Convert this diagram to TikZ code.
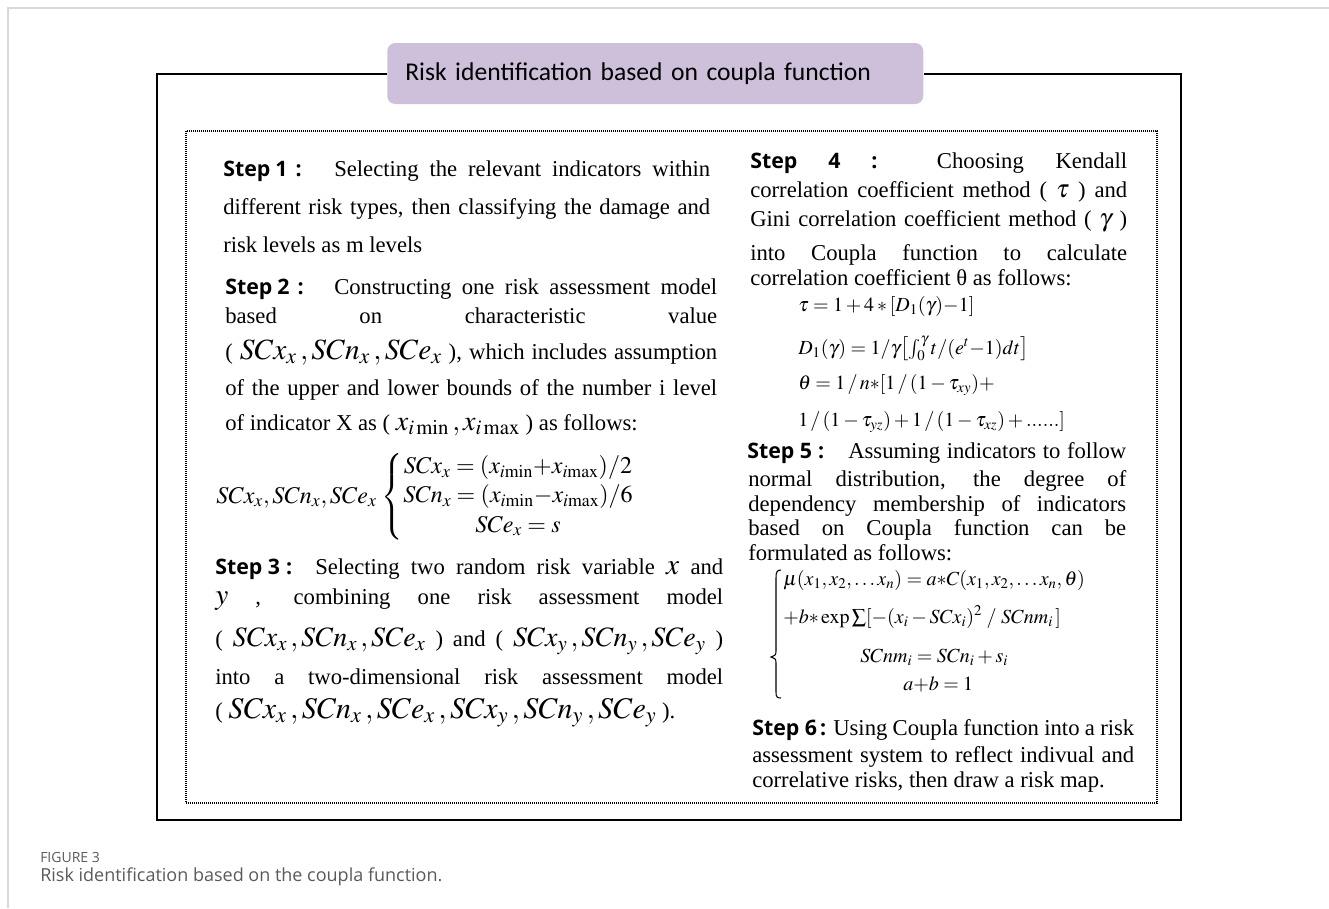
\documentclass[tikz,border=0pt]{standalone}
\usepackage{mathptmx}
\usepackage{fontspec}
\setmainfont{Liberation Serif}
\newfontfamily\stepfont{Open Sans}
\newfontfamily\titlefont{Carlito}
\newfontfamily\capfont{Open Sans}
\definecolor{lv}{HTML}{CEC0DA}
\definecolor{pg}{HTML}{D9D9D9}
\definecolor{cp}{HTML}{5A5A5A}
\newlength\pxu
\setlength\pxu{0.75pt}
\newcommand{\jl}[2]{\makebox[#1\pxu][s]{#2}}
\newcommand{\mth}[2][20]{{\fontsize{#1}{#1}\selectfont$#2$}}
\newcommand{\stp}[1]{{\stepfont\bfseries\fontsize{16}{16}\selectfont #1}}

\begin{document}
\begin{tikzpicture}[x=0.75pt,y=-0.75pt]
            \tikzstyle{every node}=[inner sep=0pt,anchor=base west]
            \tikzstyle{lab}=[font=\stepfont\bfseries\fontsize{16}{16}\selectfont]
            \tikzstyle{txt}=[font=\fontsize{17}{20}\selectfont]
            \tikzstyle{fm}=[font=\fontsize{15}{18}\selectfont]
            \useasboundingbox (0,0) rectangle (1329,908);
            \draw[color=pg,line width=1.2pt] (1329,8) -- (8,8) -- (8,908);
            % title and frames
            \node[anchor=west,fill=lv,rounded corners=6pt,inner xsep=13.5pt,minimum height=45.75pt,
                  text width=375pt,align=left,font=\titlefont\fontsize{19.2}{20}\selectfont] (ttl) at (387,73.5)
                  {Risk identification based on coupla function};
            \draw[line width=1.5pt] (ttl.west) -- (157,73.5) -- (157,820) -- (1181,820) -- (1181,73.5) -- (ttl.east);
            \draw[line width=0.8pt,dash pattern=on 0.75pt off 0.75pt] (186,131) rectangle (1157,803);
            % step 1 and 2
            \node[lab] (s1) at (223,176) {Step\hspace{5\pxu}1\hspace{8\pxu}:};
            \node[txt] (s1a) at (334,176) {\jl{376}{Selecting the relevant indicators within}};
            \node[txt] (s1b) at (223,214) {\jl{487}{different risk types, then classifying the damage and}};
            \node[txt] (s1c) at (223,252) {risk levels as m levels};
            \node[lab] (s2) at (225,294) {Step\hspace{5\pxu}2\hspace{8\pxu}:};
            \node[txt] (s2a) at (334,294) {\jl{383}{Constructing one risk assessment model}};
            \node[txt] (s2b) at (225,323) {\jl{492}{based on characteristic value}};
            \node[txt] (s2c) at (225,359) {\jl{492}{( \mth[22]{SCx_x\,, SCn_x\,, SCe_x} ), which includes assumption}};
            \node[txt] (s2d) at (225,395) {\jl{492}{of the upper and lower bounds of the number i level}};
            \node[txt] (s2e) at (225,430) {of indicator X as ( \mth[21]{x_{i\,\mathrm{min}}\,, x_{i\,\mathrm{max}}} ) as follows:};
            \node[font=\fontsize{18}{20}\selectfont,anchor=west] (f2) at (216,497) {$SCx_x, SCn_x, SCe_x\,\left\{\renewcommand{\arraystretch}{1.1}\begin{array}{@{}c@{}}
                  SCx_x = (x_{i\mathrm{min}}{+}x_{i\mathrm{max}})/2\\
                  SCn_x = (x_{i\mathrm{min}}{-}x_{i\mathrm{max}})/6\\
                  SCe_x = s\end{array}\right.$};
            % step 3
            \node[lab] (s3) at (215,574) {Step 3\hspace{6\pxu}:};
            \node[txt] (s3a) at (315,574) {\jl{408}{Selecting two random risk variable \mth[22]{x} and}};
            \node[txt] (s3b) at (215,604) {\jl{508}{\mth[22]{y} , combining one risk assessment model}};
            \node[txt] (s3c) at (215,646) {\jl{508}{( \mth[21]{SCx_x\,, SCn_x\,, SCe_x} ) and ( \mth[21]{SCx_y\,, SCn_y\,, SCe_y} )}};
            \node[txt] (s3d) at (215,684) {\jl{508}{into a two-dimensional risk assessment model}};
            \node[txt] (s3e) at (215,718) {( \mth[22.5]{SCx_x\,, SCn_x\,, SCe_x\,, SCx_y\,, SCn_y\,, SCe_y} ).};
            % step 4
            \node[txt] (s4a) at (750,168) {\jl{377}{\stp{Step 4 :} Choosing Kendall}};
            \node[txt] (s4b) at (750,197) {\jl{377}{correlation coefficient method ( \mth[19]{\tau} ) and}};
            \node[txt] (s4c) at (750,226) {\jl{377}{Gini correlation coefficient method ( \mth[19]{\gamma} )}};
            \node[txt] (s4d) at (750,260) {\jl{377}{into Coupla function to calculate}};
            \node[txt] (s4e) at (750,285) {correlation coefficient θ as follows:};
            \node[fm] (f4a) at (798,311) {$\tau = 1 + 4 \ast [D_1(\gamma){-}1]$};
            \node[fm] (f4b) at (798,354) {$D_1(\gamma) = 1/\gamma\bigl[\int_0^{\gamma} t/(e^t{-}1)dt\bigr]$};
            \node[fm] (f4c) at (798,389) {$\theta = 1\,/\,n{*}[1\,/\,(1-\tau_{xy})+$};
            \node[fm] (f4d) at (798,426) {$1\,/\,(1-\tau_{yz})+1\,/\,(1-\tau_{xz})+......]$};
            % step 5
            \node[lab] (s5) at (747,458) {Step 5\hspace{6\pxu}:};
            \node[txt] (s5a) at (848,458) {\jl{278}{Assuming indicators to follow}};
            \node[txt] (s5b) at (748,486) {\jl{378}{normal distribution, the degree of}};
            \node[txt] (s5c) at (748,511) {\jl{378}{dependency membership of indicators}};
            \node[txt] (s5d) at (748,535) {\jl{378}{based on Coupla function can be}};
            \node[txt] (s5e) at (748,560) {formulated as follows:};
            \draw[line width=0.8pt] (781,570) .. controls (777,570) and (776,572) .. (776,578) -- (776,650)
                  .. controls (776,655) .. (771,657) .. controls (776,659) .. (776,664) -- (776,692)
                  .. controls (776,697) and (777,698) .. (781,698);
            \node[fm] (f5a) at (783,585) {$\mu(x_1, x_2, \ldots x_n) = a{*}C(x_1, x_2, \ldots x_n, \theta)$};
            \node[fm] (f5b) at (783,623) {$+b{*}\exp\sum[-(x_i - SCx_i)^2 \;/\; SCnm_i\,]$};
            \node[fm] (f5c) at (860,662) {$SCnm_i = SCn_i + s_i$};
            \node[fm] (f5d) at (903,690) {$a{+}b = 1$};
            % step 6
            \node[lab] (s6) at (752,735) {Step 6\hspace{3\pxu}:};
            \node[txt] (s6a) at (833,735) {\jl{301}{Using Coupla function into a risk}};
            \node[txt] (s6b) at (752,762) {\jl{382}{assessment system to reflect indivual and}};
            \node[txt] (s6c) at (752,787) {correlative risks, then draw a risk map.};
            % caption
            \node[font=\capfont\fontsize{10.5}{12}\selectfont,color=cp] (cap1) at (40,862) {FIGURE 3};
            \node[font=\capfont\fontsize{13.5}{15}\selectfont,color=cp] (cap2) at (40,881) {Risk identification based on the coupla function.};
          \end{tikzpicture}
\end{document}
